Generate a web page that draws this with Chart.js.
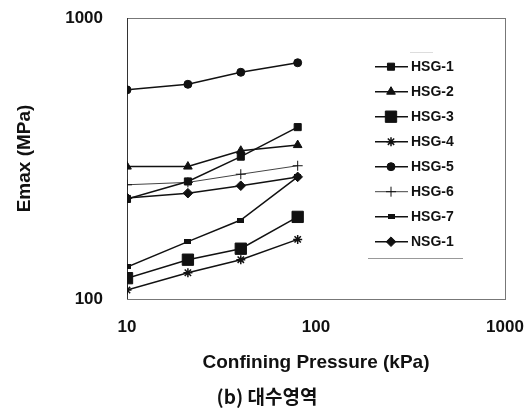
<!DOCTYPE html>
<html><head><meta charset="utf-8">
<script src="https://cdn.jsdelivr.net/npm/chart.js@4/dist/chart.umd.min.js"></script>
<style>html,body{margin:0;padding:0;background:#fff;overflow:hidden}#wrap{width:532px;height:414px;position:relative}</style>
</head><body><div id="wrap"><canvas id="c"></canvas></div>
<script>
// ---- data ----
const pressures = [10, 21, 40, 80];
const seriesNames = ['HSG-1', 'HSG-2', 'HSG-3', 'HSG-4', 'HSG-5', 'HSG-6', 'HSG-7', 'NSG-1'];
const hsg1 = [227, 262, 321, 409];
const hsg2 = [296, 296, 337, 353];
const hsg3 = [118.6, 138, 151, 196];
const hsg4 = [107.6, 124, 138, 163];
const hsg5 = [555, 581, 641, 693];
const hsg6 = [255, 260, 278, 298];
const hsg7 = [130, 160, 191, 272];
const nsg1 = [229, 238, 253, 272];
const xTickValues = [10, 100, 1000];
const xTickLabels = ['10', '100', '1000'];
const yTickValues = [100, 1000];
const yTickLabels = ['100', '1000'];
const xTitle = 'Confining Pressure (kPa)';
const yTitle = 'Emax (MPa)';
const caption = '(b) 대수영역';

// ---- styles ----
const INK = '#111';
const FONT = '"Liberation Sans", Arial, sans-serif';
function barMarker(w, h) {
  const c = document.createElement('canvas');
  c.width = w; c.height = h;
  const g = c.getContext('2d');
  g.fillStyle = INK; g.fillRect(0, 0, w, h);
  return c;
}
const allValues = [hsg1, hsg2, hsg3, hsg4, hsg5, hsg6, hsg7, nsg1];
const styles = [
  {pointStyle: 'rect', pointRadius: 5, lineColor: INK, lineWidth: 1.5},
  {pointStyle: 'triangle', pointRadius: 5, lineColor: INK, lineWidth: 1.5},
  {pointStyle: 'rect', pointRadius: 8, lineColor: INK, lineWidth: 1.5},
  {pointStyle: 'star', pointRadius: 4.5, lineColor: INK, lineWidth: 1.5, pbw: 1.5},
  {pointStyle: 'circle', pointRadius: 4, lineColor: INK, lineWidth: 1.5},
  {pointStyle: 'cross', pointRadius: 5, lineColor: '#444', lineWidth: 1, pbw: 1},
  {pointStyle: barMarker(7, 5), pointRadius: 4, lineColor: INK, lineWidth: 1.5},
  {pointStyle: 'rectRot', pointRadius: 4.8, lineColor: INK, lineWidth: 1.5}
];

const datasets = seriesNames.map((name, i) => {
  const s = styles[i];
  return {
    label: name,
    data: pressures.map((p, j) => ({x: p, y: allValues[i][j]})),
    borderColor: s.lineColor,
    borderWidth: s.lineWidth,
    backgroundColor: INK,
    pointStyle: s.pointStyle,
    pointRadius: s.pointRadius,
    pointHoverRadius: s.pointRadius,
    pointBackgroundColor: INK,
    pointBorderColor: INK,
    pointBorderWidth: s.pbw || 1,
    tension: 0,
    fill: false
  };
});

const boxLegend = {
  id: 'boxLegend',
  afterDraw(chart) {
    const ctx = chart.ctx;
    const x0 = 375, x1 = 408, xm = 391, tx = 411, y0 = 66.7, dy = 25;
    chart.data.datasets.forEach((ds, i) => {
      const y = y0 + i * dy;
      ctx.save();
      ctx.strokeStyle = ds.borderColor;
      ctx.lineWidth = ds.borderWidth;
      ctx.beginPath(); ctx.moveTo(x0, y); ctx.lineTo(x1, y); ctx.stroke();
      ctx.fillStyle = INK; ctx.strokeStyle = INK; ctx.lineWidth = ds.pointBorderWidth;
      Chart.helpers.drawPoint(ctx, {pointStyle: ds.pointStyle, radius: ds.pointRadius, borderWidth: ds.pointBorderWidth, rotation: 0}, xm, y);
      ctx.fillStyle = INK;
      ctx.font = 'bold 14px ' + FONT;
      ctx.textBaseline = 'middle';
      ctx.textAlign = 'left';
      ctx.fillText(ds.label, tx, y + 0.5);
      ctx.restore();
    });
    ctx.save();
    ctx.strokeStyle = '#999'; ctx.lineWidth = 1;
    ctx.beginPath(); ctx.moveTo(368, 258.5); ctx.lineTo(463, 258.5); ctx.stroke();
    ctx.strokeStyle = '#ddd';
    ctx.beginPath(); ctx.moveTo(410, 52.5); ctx.lineTo(433, 52.5); ctx.stroke();
    // caption under the figure
    ctx.fillStyle = INK;
    ctx.font = 'bold 19px "Noto Sans CJK KR", ' + FONT;
    ctx.textAlign = 'center';
    ctx.textBaseline = 'middle';
    ctx.fillText(caption, 267, 397);
    ctx.restore();
  }
};

const frame = {
  id: 'frame',
  beforeDatasetsDraw(chart) {
    const a = chart.chartArea, ctx = chart.ctx;
    ctx.save();
    ctx.strokeStyle = '#777'; ctx.lineWidth = 1;
    ctx.strokeRect(Math.round(a.left) + 0.5, Math.round(a.top) + 0.5, Math.round(a.right - a.left), Math.round(a.bottom - a.top));
    ctx.strokeStyle = '#333';
    ctx.beginPath(); ctx.moveTo(Math.round(a.left) + 0.5, a.top); ctx.lineTo(Math.round(a.left) + 0.5, a.bottom); ctx.stroke();
    ctx.restore();
  }
};

const hiddenGrid = (len) => ({display: true, drawOnChartArea: false, drawTicks: true, tickLength: len, color: 'rgba(0,0,0,0)'});

new Chart(document.getElementById('c'), {
  type: 'line',
  data: {datasets},
  plugins: [frame, boxLegend],
  options: {
    responsive: true,
    maintainAspectRatio: false,
    animation: false,
    layout: {padding: {left: 0, right: 27, top: 18, bottom: 28}},
    plugins: {
      legend: {display: false},
      tooltip: {enabled: false},
      title: {display: false}
    },
    scales: {
      x: {
        type: 'logarithmic', min: 10, max: 1000,
        grid: hiddenGrid(16),
        border: {display: false},
        afterBuildTicks: s => { s.ticks = xTickValues.map(v => ({value: v})); },
        afterFit: s => { s.height = 87; },
        ticks: {
          color: INK, padding: 2, maxRotation: 0, autoSkip: false,
          font: {family: FONT, size: 17, weight: 'bold'},
          callback: (v) => xTickLabels[xTickValues.indexOf(v)]
        },
        title: {display: true, text: xTitle, color: INK, font: {family: FONT, size: 19, weight: 'bold'}, padding: {top: 0, bottom: 12}}
      },
      y: {
        type: 'logarithmic', min: 100, max: 1000,
        grid: hiddenGrid(22),
        border: {display: false},
        afterBuildTicks: s => { s.ticks = yTickValues.map(v => ({value: v})); },
        afterFit: s => { s.width = 127; },
        ticks: {
          color: INK, padding: 2, autoSkip: false,
          font: {family: FONT, size: 17, weight: 'bold'},
          callback: (v) => yTickLabels[yTickValues.indexOf(v)]
        },
        title: {display: true, text: yTitle, color: INK, font: {family: FONT, size: 19, weight: 'bold'}, padding: {top: 13, bottom: 0}}
      }
    }
  }
});
</script>
</body></html>
